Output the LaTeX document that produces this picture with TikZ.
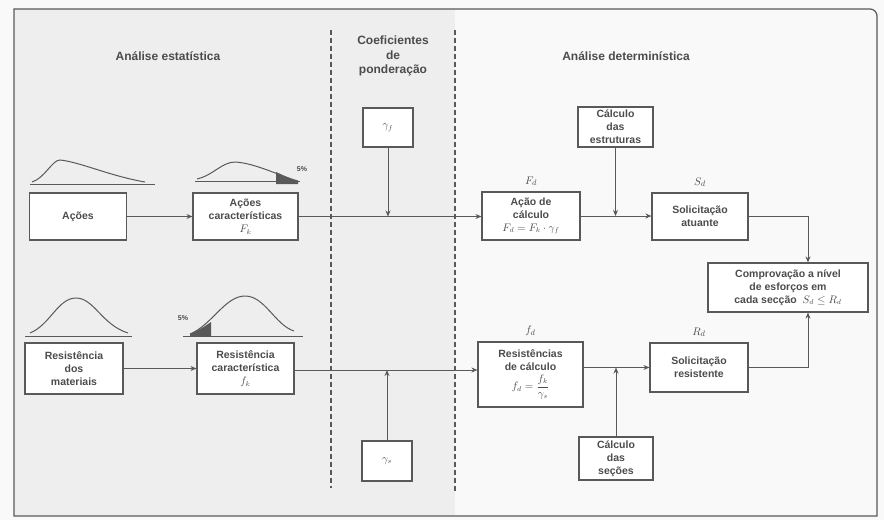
\documentclass[tikz,border=0pt]{standalone}
\usepackage{fontspec}
\setmainfont{Liberation Sans}
\usetikzlibrary{arrows.meta}
\definecolor{ink}{gray}{0.35}
\definecolor{txt}{gray}{0.3}
\begin{document}
\begin{tikzpicture}[x=1pt,y=-1pt,
  box/.style={draw=ink,line width=1.1pt,fill=white,align=center,text=txt,inner sep=2pt,
    font=\fontsize{10.5}{13}\selectfont\bfseries},
  conn/.style={draw=ink,line width=0.9pt},
  arr/.style={conn,-{Stealth[length=6pt,width=5pt]}},
  ttl/.style={text=txt,align=center,font=\fontsize{12}{14.5}\selectfont\bfseries},
  lbl/.style={text=txt,font=\fontsize{11}{12}\selectfont},
  curve/.style={draw=ink,line width=1pt},
  pct/.style={text=txt,font=\fontsize{7}{8}\selectfont\bfseries}]
\useasboundingbox (0,0) rectangle (884,520);
\fill[gray!5] (0,0) rectangle (884,520);
\fill[gray!13] (14,9) rectangle (455,516);
% frame
\draw[ink,line width=1.2pt] (14,9) -- (870,9) to[out=0,in=90] (877,16) -- (877,516) -- (14,516) -- cycle;
% separators
\draw[ink,line width=1.2pt,dash pattern=on 5pt off 3pt] (331,30) -- (331,488);
\draw[ink,line width=1.2pt,dash pattern=on 5pt off 3pt] (455,30) -- (455,492);
% titles
\node[ttl] (t1) at (168,56) {Análise estatística};
\node[ttl] (t2) at (393,56) {Coeficientes\\de\\ponderação};
\node[ttl] (t3) at (626,56) {Análise determinística};
% top curves
\draw[curve] (30,184) -- (155,184);
\draw[curve] (32,182) .. controls (45,178) and (52,160) .. (60,160) .. controls (80,162) and (110,176) .. (145,182);
\fill[ink] (276,172) .. controls (285,176) and (292,180) .. (298,181) -- (298,184) -- (276,184) -- cycle;
\draw[curve] (195,181) -- (300,181);
\draw[curve] (197,179) .. controls (212,176) and (222,162) .. (235,162) .. controls (255,163) and (280,176) .. (298,181);
\node[pct] (p1) at (302,169) {5\%};
% bottom curves
\draw[curve] (25,336) -- (132,336);
\draw[curve] (30,333) .. controls (50,325) and (58,298) .. (76,298) .. controls (94,298) and (102,325) .. (128,333);
\fill[ink] (190,334) .. controls (197,331) and (204,327) .. (211,322) -- (211,336) -- (190,336) -- cycle;
\draw[curve] (183,336) -- (303,336);
\draw[curve] (190,334) .. controls (212,325) and (225,296) .. (245,296) .. controls (265,296) and (275,325) .. (294,331);
\node[pct] (p2) at (183,318) {5\%};
% boxes
\node[box,minimum width=97pt,minimum height=47pt] (acoes) at (78,216.5) {Ações};
\node[box,minimum width=105pt,minimum height=47pt] (acoesk) at (245.5,216.5) {Ações\\características\\$F_k$};
\node[box,minimum width=50pt,minimum height=39pt] (gf) at (388,127.5) {$\gamma_f$};
\node[box,minimum width=98pt,minimum height=48pt,label={[lbl,label distance=2pt]above:$F_d$}] (acal) at (531,216) {Ação de\\cálculo\\$F_d = F_k\cdot\gamma_f$};
\node[box,minimum width=75pt,minimum height=40pt] (cest) at (615.5,127) {Cálculo\\das\\estruturas};
\node[box,minimum width=96pt,minimum height=47pt,label={[lbl,label distance=2pt]above:$S_d$}] (solat) at (700,216.5) {Solicitação\\atuante};
\node[box,minimum width=160pt,minimum height=49pt] (comp) at (788,287.5) {Comprovação a nível\\de esforços em\\cada secção \ $S_d \leq R_d$};
\node[box,minimum width=98pt,minimum height=51pt] (resm) at (74,368.5) {Resistência\\dos\\materiais};
\node[box,minimum width=97pt,minimum height=51pt] (resk) at (245.5,368.5) {Resistência\\característica\\$f_k$};
\node[box,minimum width=50pt,minimum height=40pt] (gs) at (387,461) {$\gamma_s$};
\node[box,minimum width=105pt,minimum height=65pt,label={[lbl,label distance=2pt]above:$f_d$}] (rcal) at (530.5,374.5) {Resistências\\de cálculo\\[3pt]$f_d = \displaystyle\frac{f_k}{\gamma_s}$};
\node[box,minimum width=74pt,minimum height=43pt] (csec) at (616,458.5) {Cálculo\\das\\seções};
\node[box,minimum width=98pt,minimum height=49pt,label={[lbl,label distance=2pt]above:$R_d$}] (solr) at (699,367.5) {Solicitação\\resistente};
% connectors top
\draw[arr] (acoes.east) -- (acoesk.west);
\draw[arr] (acoesk.east) -- (acoesk.east -| acal.west);
\draw[arr] (gf.south) -- (gf.south |- acoesk.east);
\draw[arr] (acal.east) -- (acal.east -| solat.west);
\draw[arr] (cest.south) -- (cest.south |- acal.east);
\draw[arr] (solat.east) -| ([xshift=20pt]comp.north);
% connectors bottom
\draw[arr] (resm.east) -- (resm.east -| resk.west);
\draw[arr] ([yshift=-1.5pt]resk.east) -- ([yshift=-1.5pt]resk.east -| rcal.west);
\draw[arr] (gs.north) -- ([yshift=-1.5pt]gs.north |- resk.east);
\draw[arr] (solr.west -| rcal.east) -- (solr.west);
\draw[arr] (csec.north) -- (csec.north |- solr.west);
\draw[arr] (solr.east) -| ([xshift=20pt]comp.south);
\end{tikzpicture}
\end{document}
